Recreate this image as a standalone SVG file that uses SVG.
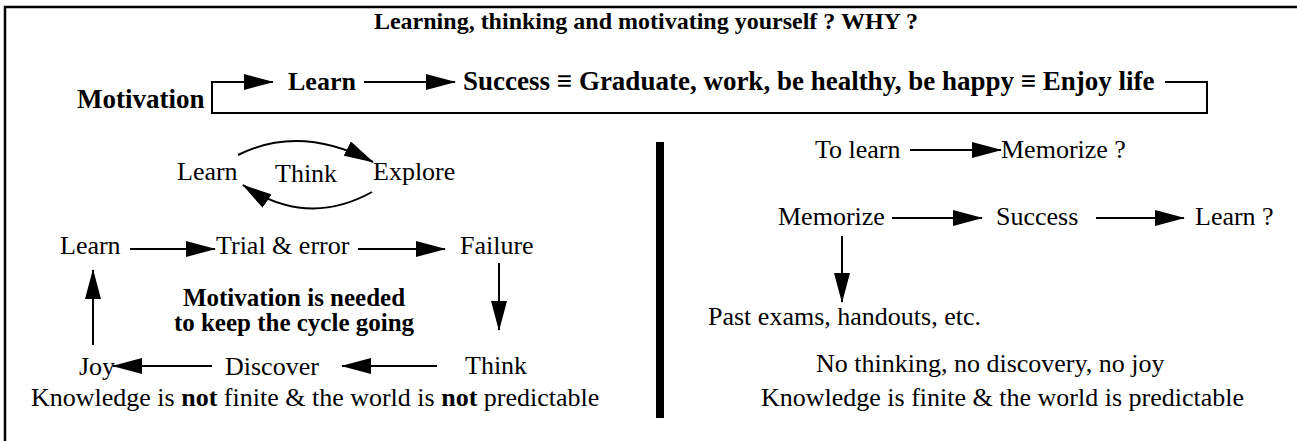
<svg xmlns="http://www.w3.org/2000/svg" width="1297" height="441" viewBox="0 0 1297 441">
<style>
.b{font-weight:bold}
.ln{fill:none;stroke:#000;stroke-width:2}
</style>
<defs>
<marker id="ah" markerUnits="userSpaceOnUse" markerWidth="30" markerHeight="16" viewBox="0 0 30 16" refX="29" refY="8" orient="auto">
<path d="M0,0 L30,8 L0,16 z" fill="#000"/>
</marker>
</defs>
<rect x="5" y="7" width="1300" height="440" fill="none" stroke="#000" stroke-width="2.5"/>
<rect x="656" y="142" width="8" height="276" fill="#000"/>
<g id="title"><text style="font-family:'Liberation Serif',serif;font-size:24px;font-weight:bold" x="646" y="29" text-anchor="middle">Learning, thinking and motivating yourself ? WHY ?</text></g>
<g id="n-motivation"><text style="font-family:'Liberation Serif',serif;font-size:27px;font-weight:bold" x="77" y="108">Motivation</text></g>
<g id="n-learn-top"><text style="font-family:'Liberation Serif',serif;font-size:26px;font-weight:bold" x="288" y="90">Learn</text></g>
<g id="n-success"><text style="font-family:'Liberation Serif',serif;font-size:27px;font-weight:bold" x="463" y="90">Success ≡ Graduate, work, be healthy, be happy ≡ Enjoy life</text></g>
<g id="n-learn-c"><text style="font-family:'Liberation Serif',serif;font-size:26px" x="177" y="180">Learn</text></g>
<g id="n-think-c"><text style="font-family:'Liberation Serif',serif;font-size:26px" x="275" y="182">Think</text></g>
<g id="n-explore"><text style="font-family:'Liberation Serif',serif;font-size:26px" x="373" y="180">Explore</text></g>
<g id="n-learn2"><text style="font-family:'Liberation Serif',serif;font-size:26px" x="60" y="254">Learn</text></g>
<g id="n-trial"><text style="font-family:'Liberation Serif',serif;font-size:26px" x="216" y="254">Trial &amp; error</text></g>
<g id="n-failure"><text style="font-family:'Liberation Serif',serif;font-size:26px" x="460" y="254">Failure</text></g>
<g id="n-motiv-note"><text style="font-family:'Liberation Serif',serif;font-size:25px;font-weight:bold" x="294" y="306" text-anchor="middle">Motivation is needed</text><text style="font-family:'Liberation Serif',serif;font-size:25px;font-weight:bold" x="294" y="331" text-anchor="middle">to keep the cycle going</text></g>
<g id="n-joy"><text style="font-family:'Liberation Serif',serif;font-size:26px" x="79" y="375">Joy</text></g>
<g id="n-discover"><text style="font-family:'Liberation Serif',serif;font-size:26px" x="225" y="375">Discover</text></g>
<g id="n-think2"><text style="font-family:'Liberation Serif',serif;font-size:26px" x="465" y="374">Think</text></g>
<g id="n-know-left"><text style="font-family:'Liberation Serif',serif;font-size:26px" x="31" y="406">Knowledge is <tspan class="b">not</tspan> finite &amp; the world is <tspan class="b">not</tspan> predictable</text></g>
<g id="n-tolearn"><text style="font-family:'Liberation Serif',serif;font-size:26px" x="815" y="158">To learn</text></g>
<g id="n-memorize-q"><text style="font-family:'Liberation Serif',serif;font-size:26px" x="1001" y="158">Memorize ?</text></g>
<g id="n-memorize"><text style="font-family:'Liberation Serif',serif;font-size:26px" x="778" y="225">Memorize</text></g>
<g id="n-success2"><text style="font-family:'Liberation Serif',serif;font-size:26px" x="996" y="225">Success</text></g>
<g id="n-learn-q"><text style="font-family:'Liberation Serif',serif;font-size:26px" x="1195" y="225">Learn ?</text></g>
<g id="n-past"><text style="font-family:'Liberation Serif',serif;font-size:26px" x="708" y="325">Past exams, handouts, etc.</text></g>
<g id="n-nothink"><text style="font-family:'Liberation Serif',serif;font-size:26px" x="816" y="372">No thinking, no discovery, no joy</text></g>
<g id="n-know-right"><text style="font-family:'Liberation Serif',serif;font-size:26px" x="761" y="406">Knowledge is finite &amp; the world is predictable</text></g>
<g id="connectors">
<path class="ln" d="M1165,82 H1207 V113 H212 V82 H273" marker-end="url(#ah)"/>
<path class="ln" d="M364,82 H455" marker-end="url(#ah)"/>
<path class="ln" d="M238,155 Q300,124 373,162" marker-end="url(#ah)"/>
<path class="ln" d="M372,192 Q307,228 243,185" marker-end="url(#ah)"/>
<path class="ln" d="M130,249 H215" marker-end="url(#ah)"/>
<path class="ln" d="M358,249 H445" marker-end="url(#ah)"/>
<path class="ln" d="M499,263 V330" marker-end="url(#ah)"/>
<path class="ln" d="M437,366 H342" marker-end="url(#ah)"/>
<path class="ln" d="M212,366 H113" marker-end="url(#ah)"/>
<path class="ln" d="M93,345 V270" marker-end="url(#ah)"/>
<path class="ln" d="M910,150 H1001" marker-end="url(#ah)"/>
<path class="ln" d="M892,218 H982" marker-end="url(#ah)"/>
<path class="ln" d="M1096,218 H1184" marker-end="url(#ah)"/>
<path class="ln" d="M842,236 V302" marker-end="url(#ah)"/>
</g>
</svg>
